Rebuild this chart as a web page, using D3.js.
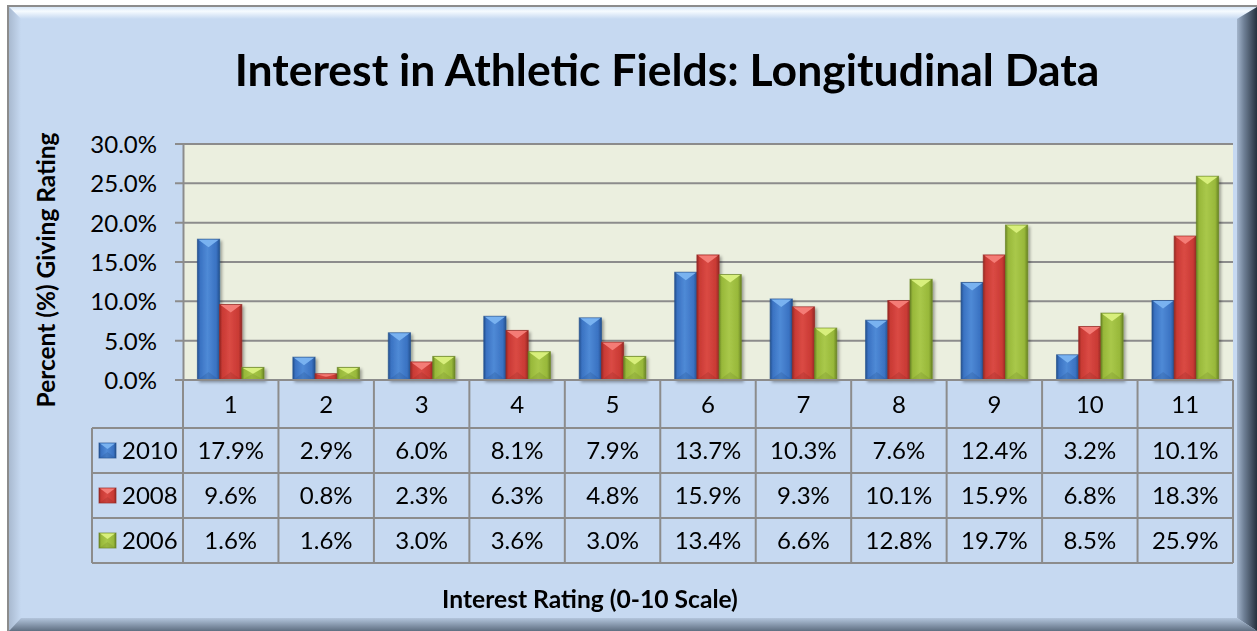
<!DOCTYPE html>
<html>
<head>
<meta charset="utf-8">
<title>Interest in Athletic Fields: Longitudinal Data</title>
<script src="https://d3js.org/d3.v7.min.js"></script>
<style>
  body { margin: 0; background: #fff; }
  text { font-family: Lato, "Noto Sans", sans-serif; fill: #000; }
</style>
</head>
<body>
<div id="chart"></div>
<script>
// data
var categories = ["1", "2", "3", "4", "5", "6", "7", "8", "9", "10", "11"];
var seriesNames = ["2010", "2008", "2006"];
var values2010 = [17.9, 2.9, 6.0, 8.1, 7.9, 13.7, 10.3, 7.6, 12.4, 3.2, 10.1];
var values2008 = [9.6, 0.8, 2.3, 6.3, 4.8, 15.9, 9.3, 10.1, 15.9, 6.8, 18.3];
var values2006 = [1.6, 1.6, 3.0, 3.6, 3.0, 13.4, 6.6, 12.8, 19.7, 8.5, 25.9];
var yTicks = [0, 5, 10, 15, 20, 25, 30];

var seriesValues = [values2010, values2008, values2006];

// colours per series: edge, body, highlight
var palette = [
  {dark: "#24518f", mid: "#3a72c2", light: "#4f8ad6", hi: "#79b2f0"},
  {dark: "#952824", mid: "#c93a34", light: "#da4a44", hi: "#f47c76"},
  {dark: "#6a8524", mid: "#98b83a", light: "#a9c84a", hi: "#d8ef7c"}
];

var W = 1257, H = 631;
var plot = {left: 183, right: 1233, top: 144, bottom: 380};
var table = {left: 92, headBottom: 428, rowH: 45};
var fontSize = 24;

var svg = d3.select("#chart").append("svg")
  .attr("width", W).attr("height", H);

var defs = svg.append("defs");

function grad(id, x2, y2, stops) {
  var g = defs.append("linearGradient").attr("id", id)
    .attr("x1", 0).attr("y1", 0).attr("x2", x2).attr("y2", y2);
  stops.forEach(function(s) {
    g.append("stop").attr("offset", s[0]).attr("stop-color", s[1]);
  });
}

grad("bevTop", 0, 1, [[0, "#d6e6f7"], [0.35, "#f6fbff"], [1, "#c6d9f1"]]);
grad("bevLeft", 1, 0, [[0, "#a9bad0"], [1, "#c6d9f1"]]);
grad("bevRight", 1, 0, [[0, "#a3b5cc"], [0.35, "#6f8096"], [1, "#26313e"]]);
grad("bevBottom", 0, 1, [[0, "#b3c5dc"], [1, "#5f6f82"]]);

palette.forEach(function(p, i) {
  grad("bar" + i, 1, 0, [[0, p.dark], [0.12, p.mid], [0.45, p.light], [0.85, p.mid], [1, p.dark]]);
});

var shadow = defs.append("filter").attr("id", "shadow")
  .attr("x", "-20%").attr("y", "-10%").attr("width", "150%").attr("height", "130%");
shadow.append("feDropShadow").attr("dx", 2).attr("dy", 2)
  .attr("stdDeviation", 1.5).attr("flood-color", "#000").attr("flood-opacity", 0.35);

// frame with bevels
var fx0 = 8, fy0 = 6, fx1 = W, fy1 = H, bt = 13, br = 20, bb = 13;
svg.append("rect").attr("x", fx0).attr("y", fy0)
  .attr("width", fx1 - fx0).attr("height", fy1 - fy0)
  .attr("fill", "#c6d9f1").attr("stroke", "#8c8c8c").attr("stroke-width", 2);

function poly(pts, fill) {
  svg.append("polygon").attr("points", pts.map(function(p) { return p.join(","); }).join(" "))
    .attr("fill", fill);
}
poly([[fx0 + 1, fy0 + 1], [fx1, fy0 + 1], [fx1 - br, fy0 + bt], [fx0 + bt, fy0 + bt]], "url(#bevTop)");
poly([[fx0 + 1, fy0 + 1], [fx0 + bt, fy0 + bt], [fx0 + bt, fy1 - bb], [fx0 + 1, fy1]], "url(#bevLeft)");
poly([[fx1, fy0 + 1], [fx1, fy1], [fx1 - br, fy1 - bb], [fx1 - br, fy0 + bt]], "url(#bevRight)");
poly([[fx0 + 1, fy1], [fx1, fy1], [fx1 - br, fy1 - bb], [fx0 + bt, fy1 - bb]], "url(#bevBottom)");

// scales
var x0 = d3.scaleBand().domain(categories).range([plot.left, plot.right]).padding(0);
var x1 = d3.scaleBand().domain(seriesNames).range([0, x0.bandwidth()])
  .paddingInner(0).paddingOuter(0.65);
var y = d3.scaleLinear().domain([0, 30]).range([plot.bottom, plot.top]);

// plot area
svg.append("rect").attr("x", plot.left).attr("y", plot.top)
  .attr("width", plot.right - plot.left).attr("height", plot.bottom - plot.top)
  .attr("fill", "#ebefdf");

// gridlines
svg.append("g").selectAll("line").data(yTicks).enter().append("line")
  .attr("x1", plot.left - 8).attr("x2", plot.right)
  .attr("y1", function(d) { return y(d); }).attr("y2", function(d) { return y(d); })
  .attr("stroke", "#8c8c8c").attr("stroke-width", 2);

// y axis
var yAxis = d3.axisLeft(y).tickValues(yTicks).tickSize(0).tickPadding(26)
  .tickFormat(function(d) { return d3.format(".1f")(d) + "%"; });
var yg = svg.append("g").attr("transform", "translate(" + plot.left + ",0)").call(yAxis);
yg.select(".domain").attr("stroke", "#8c8c8c").attr("stroke-width", 2);
yg.selectAll("text").attr("font-size", fontSize).attr("font-family", "Lato, sans-serif")
  .attr("fill", "#000").attr("dy", "0.36em");

// bars
function bevelBar(g, bx, by, bw, bh, i, t) {
  var p = palette[i];
  g.append("rect").attr("x", bx).attr("y", by).attr("width", bw).attr("height", bh)
    .attr("fill", "url(#bar" + i + ")").attr("stroke", p.dark).attr("stroke-width", 1)
    .attr("stroke-opacity", 0.7);
  var tt = Math.min(t, bh / 2);
  g.append("polygon")
    .attr("points", [[bx + 1, by + 0.5], [bx + bw - 1, by + 0.5], [bx + bw / 2, by + tt]].join(" "))
    .attr("fill", p.hi);
  g.append("polygon")
    .attr("points", [[bx + 1, by + bh - 0.5], [bx + bw - 1, by + bh - 0.5], [bx + bw / 2, by + bh - tt]].join(" "))
    .attr("fill", p.dark).attr("opacity", 0.25);
}

var barsG = svg.append("g").attr("filter", "url(#shadow)");
categories.forEach(function(c, ci) {
  seriesNames.forEach(function(s, si) {
    var v = seriesValues[si][ci];
    var bx = x0(c) + x1(s);
    bevelBar(barsG, bx, y(v), x1.bandwidth(), y(0) - y(v), si, 8);
  });
});

// data table under the axis
var tg = svg.append("g");
var lineColor = "#8c8c8c";
var tableBottom = table.headBottom + table.rowH * seriesNames.length;

// horizontal lines
tg.append("line").attr("x1", plot.left).attr("x2", plot.right)
  .attr("y1", plot.bottom).attr("y2", plot.bottom)
  .attr("stroke", lineColor).attr("stroke-width", 2);
d3.range(seriesNames.length + 1).forEach(function(r) {
  var yy = table.headBottom + r * table.rowH;
  tg.append("line").attr("x1", table.left).attr("x2", plot.right)
    .attr("y1", yy).attr("y2", yy).attr("stroke", lineColor).attr("stroke-width", 2);
});
// vertical lines
categories.concat(["end"]).forEach(function(c, ci) {
  var xx = ci < categories.length ? x0(c) : plot.right;
  tg.append("line").attr("x1", xx).attr("x2", xx)
    .attr("y1", plot.bottom).attr("y2", tableBottom)
    .attr("stroke", lineColor).attr("stroke-width", 2);
});
tg.append("line").attr("x1", table.left).attr("x2", table.left)
  .attr("y1", table.headBottom).attr("y2", tableBottom)
  .attr("stroke", lineColor).attr("stroke-width", 2);

// category labels
tg.selectAll("text.cat").data(categories).enter().append("text")
  .attr("class", "cat")
  .attr("x", function(d) { return x0(d) + x0.bandwidth() / 2; })
  .attr("y", (plot.bottom + table.headBottom) / 2)
  .attr("dy", "0.36em").attr("text-anchor", "middle").attr("font-size", fontSize)
  .text(function(d) { return d; });

// values + legend keys
seriesNames.forEach(function(s, si) {
  var cy = table.headBottom + table.rowH * si + table.rowH / 2;
  categories.forEach(function(c, ci) {
    tg.append("text").attr("x", x0(c) + x0.bandwidth() / 2).attr("y", cy)
      .attr("dy", "0.36em").attr("text-anchor", "middle").attr("font-size", fontSize)
      .text(d3.format(".1f")(seriesValues[si][ci]) + "%");
  });
  bevelBar(tg, 99, cy - 7.5, 17, 15, si, 6);
  tg.append("text").attr("x", 122).attr("y", cy).attr("dy", "0.36em")
    .attr("font-size", fontSize).text(s);
});

// titles, sized to the widths seen in the reference
function fit(sel, target) {
  var fs = +sel.attr("font-size");
  var len = sel.node().getComputedTextLength();
  sel.attr("font-size", fs * target / len);
}

var title = svg.append("text").attr("x", 667).attr("y", 86)
  .attr("text-anchor", "middle").attr("font-weight", "bold").attr("font-size", 40)
  .text("Interest in Athletic Fields: Longitudinal Data");
fit(title, 865);

var xTitle = svg.append("text").attr("x", 590).attr("y", 608)
  .attr("text-anchor", "middle").attr("font-weight", "bold").attr("font-size", 18)
  .text("Interest Rating (0-10 Scale)");
fit(xTitle, 296);

var yTitle = svg.append("text")
  .attr("transform", "translate(55,270) rotate(-90)")
  .attr("text-anchor", "middle").attr("font-weight", "bold").attr("font-size", 18)
  .text("Percent (%) Giving Rating");
fit(yTitle, 275);
</script>
</body>
</html>
